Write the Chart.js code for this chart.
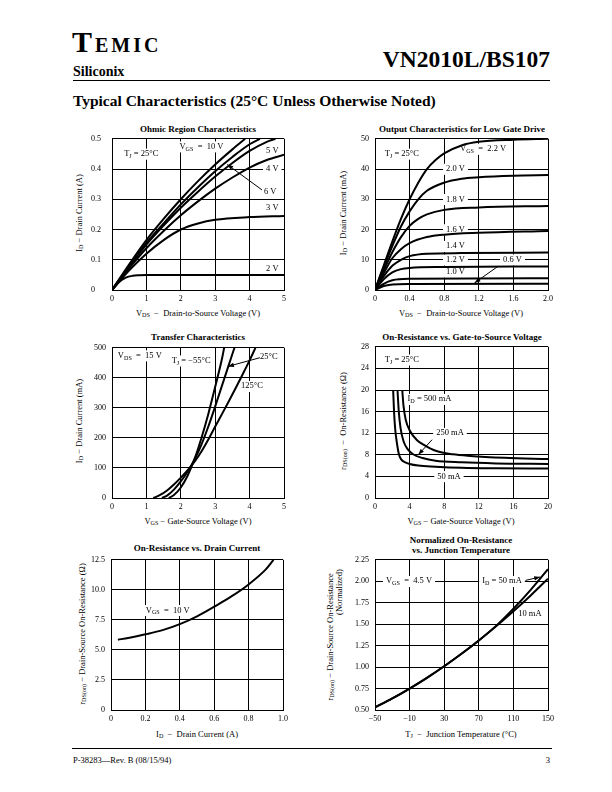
<!DOCTYPE html>
<html>
<head>
<meta charset="utf-8">
<script src="https://cdn.jsdelivr.net/npm/chart.js@4.4.0/dist/chart.umd.min.js"></script>
<style>
  body { margin: 0; width: 612px; height: 792px; background: #fff; position: relative; overflow: hidden;
         font-family: "Liberation Serif", "Times New Roman", serif; color: #000; }
  .t { position: absolute; white-space: nowrap; line-height: 1; }
  .c { transform: translate(-50%, -50%); }
  .r { transform: translate(-50%, -50%) rotate(-90deg); }
  .ttl { font-weight: bold; font-size: 9px; }
  .ax { font-size: 8.5px; }
  sub { font-size: 72%; vertical-align: -0.25em; line-height: 0; }
  .rule { position: absolute; height: 0; border-top: 1px solid #000; }
  canvas { position: absolute; }
</style>
</head>
<body>
<div class="t" style="left:72px; top:27px; font-weight:bold; font-size:30px; letter-spacing:3px;">T<span style="font-size:20px;">EMIC</span></div>
<div class="t" style="left:73px; top:65px; font-weight:bold; font-size:14px;">Siliconix</div>
<div class="t" style="right:62px; top:48px; font-weight:bold; font-size:23.5px;">VN2010L/BS107</div>
<div class="rule" style="left:73px; top:80px; width:477px;"></div>
<div class="t" style="left:73px; top:93px; font-weight:bold; font-size:15.5px;">Typical Characteristics (25°C Unless Otherwise Noted)</div>

<div class="t c ttl" style="left:198px; top:129px;">Ohmic Region Characteristics</div>
<div class="t c ttl" style="left:462px; top:129px;">Output Characteristics for Low Gate Drive</div>
<div class="t c ttl" style="left:198px; top:337px;">Transfer Characteristics</div>
<div class="t c ttl" style="left:462px; top:337px;">On-Resistance vs. Gate-to-Source Voltage</div>
<div class="t c ttl" style="left:197px; top:548px;">On-Resistance vs. Drain Current</div>
<div class="t c ttl" style="left:461px; top:540px;">Normalized On-Resistance</div>
<div class="t c ttl" style="left:461px; top:550px;">vs. Junction Temperature</div>

<div class="t c ax" style="left:198px; top:313px;">V<sub>DS</sub> &nbsp;−&nbsp; Drain-to-Source Voltage (V)</div>
<div class="t c ax" style="left:461px; top:313px;">V<sub>DS</sub> &nbsp;−&nbsp; Drain-to-Source Voltage (V)</div>
<div class="t c ax" style="left:198px; top:521px;">V<sub>GS</sub> − Gate-Source Voltage (V)</div>
<div class="t c ax" style="left:461px; top:521px;">V<sub>GS</sub> − Gate-Source Voltage (V)</div>
<div class="t c ax" style="left:197px; top:734px;">I<sub>D</sub> &nbsp;−&nbsp; Drain Current (A)</div>
<div class="t c ax" style="left:461px; top:734px;">T<sub>J</sub> &nbsp;−&nbsp; Junction Temperature (°C)</div>

<div class="t r ax" style="left:79px; top:213px;">I<sub>D</sub> − Drain Current (A)</div>
<div class="t r ax" style="left:343px; top:213px;">I<sub>D</sub> − Drain Current (mA)</div>
<div class="t r ax" style="left:79px; top:421px;">I<sub>D</sub> − Drain Current (mA)</div>
<div class="t r ax" style="left:343px; top:421px;">r<sub>DS(on)</sub> &nbsp;−&nbsp; On-Resistance (Ω)</div>
<div class="t r ax" style="left:82px; top:634px;">r<sub>DS(on)</sub> − Drain-Source On-Resistance (Ω)</div>
<div class="t r ax" style="left:330px; top:637px;">r<sub>DS(on)</sub> − Drain-Source On-Resistance</div>
<div class="t r ax" style="left:339px; top:592px;">(Normalized)</div>

<div class="rule" style="left:72px; top:748px; width:480px;"></div>
<div class="t" style="left:73px; top:756px; font-size:8.5px;">P-38283—Rev. B (08/15/94)</div>
<div class="t" style="right:62px; top:756px; font-size:8.5px;">3</div>

<script>
// Ohmic region: V_DS (V) vs I_D (A)
const ohmicTicksX = [0, 1, 2, 3, 4, 5];
const ohmicTicksY = [0, 0.1, 0.2, 0.3, 0.4, 0.5];
const ohmic10V = [[0, 0], [0.5, 0.085], [1, 0.165], [1.5, 0.235], [2, 0.3], [2.5, 0.36], [3, 0.415], [3.5, 0.465], [3.87, 0.5]];
const ohmic6V = [[0, 0], [0.5, 0.08], [1, 0.155], [1.5, 0.22], [2, 0.283], [2.5, 0.34], [3, 0.393], [3.5, 0.44], [4, 0.482], [4.3, 0.5]];
const ohmic5V = [[0, 0], [0.5, 0.077], [1, 0.15], [1.5, 0.213], [2, 0.272], [2.5, 0.325], [3, 0.375], [3.5, 0.42], [4, 0.46], [4.5, 0.49], [4.75, 0.5]];
const ohmic4V = [[0, 0], [0.5, 0.072], [1, 0.138], [1.5, 0.195], [2, 0.247], [2.5, 0.293], [3, 0.335], [3.5, 0.372], [4, 0.405], [4.5, 0.43], [5, 0.447]];
const ohmic3V = [[0, 0], [0.5, 0.065], [1, 0.12], [1.5, 0.165], [2, 0.2], [2.5, 0.22], [3, 0.232], [4, 0.241], [5, 0.245]];
const ohmic2V = [[0, 0], [0.2, 0.026], [0.4, 0.041], [0.6, 0.047], [0.8, 0.049], [1, 0.05], [2, 0.05], [5, 0.05]];

// Output characteristics, low gate drive: V_DS (V) vs I_D (mA)
const outTicksX = [0, 0.4, 0.8, 1.2, 1.6, 2.0];
const outTicksY = [0, 10, 20, 30, 40, 50];
const out22V = [[0, 0], [0.1, 8], [0.2, 16], [0.3, 23.5], [0.4, 30], [0.5, 35.5], [0.6, 40], [0.7, 43], [0.8, 45.2], [1.0, 47.8], [1.2, 49], [1.6, 49.7], [2.0, 50]];
const out20V = [[0, 0], [0.1, 7.5], [0.2, 14.5], [0.3, 21], [0.4, 26], [0.5, 30], [0.6, 32.8], [0.8, 35.5], [1.0, 36.8], [1.2, 37.3], [1.6, 37.8], [2.0, 38]];
const out18V = [[0, 0], [0.1, 6.5], [0.2, 12.5], [0.3, 17.5], [0.4, 21.2], [0.5, 23.5], [0.6, 25], [0.8, 26.5], [1.2, 27.3], [2.0, 27.8]];
const out16V = [[0, 0], [0.1, 5.5], [0.2, 10.5], [0.3, 13.5], [0.4, 15.5], [0.6, 17.5], [0.8, 18.3], [1.2, 18.9], [2.0, 19.5]];
const out14V = [[0, 0], [0.1, 4.5], [0.2, 8], [0.3, 10], [0.4, 11.2], [0.6, 12], [1.0, 12.2], [2.0, 12.4]];
const out12V = [[0, 0], [0.1, 3.5], [0.2, 5.8], [0.3, 6.9], [0.4, 7.3], [0.8, 7.6], [2.0, 7.8]];
const out10V = [[0, 0], [0.1, 2], [0.2, 3.2], [0.4, 3.7], [2.0, 3.9]];
const out06V = [[0, 0], [0.1, 1.3], [0.2, 1.8], [0.4, 2.0], [2.0, 2.1]];

// Transfer characteristics: V_GS (V) vs I_D (mA)
const xferTicksX = [0, 1, 2, 3, 4, 5];
const xferTicksY = [0, 100, 200, 300, 400, 500];
const xferMinus55 = [[1.65, 0], [1.8, 10], [2.0, 35], [2.2, 75], [2.4, 130], [2.6, 200], [2.8, 280], [3.0, 370], [3.2, 465], [3.26, 500]];
const xfer25 = [[1.45, 0], [1.6, 8], [1.8, 28], [2.0, 55], [2.2, 88], [2.4, 128], [2.6, 178], [2.8, 238], [3.0, 305], [3.2, 375], [3.4, 445], [3.56, 500]];
const xfer125 = [[1.2, 0], [1.4, 10], [1.6, 25], [1.8, 45], [2.0, 68], [2.2, 93], [2.4, 121], [2.6, 155], [2.8, 195], [3.0, 238], [3.2, 280], [3.4, 323], [3.6, 367], [3.8, 412], [4.0, 458], [4.17, 500]];

// On-resistance vs gate-source voltage: V_GS (V) vs r_DS(on) (ohm)
const rgsTicksX = [0, 4, 8, 12, 16, 20];
const rgsTicksY = [0, 4, 8, 12, 16, 20, 24, 28];
const rgs50mA = [[2.1, 20], [2.2, 16], [2.35, 12.5], [2.55, 10], [2.75, 8.2], [3.0, 7.2], [3.5, 6.6], [4, 6.3], [5, 6.0], [7, 5.8], [10, 5.6], [14, 5.5], [20, 5.45]];
const rgs250mA = [[2.6, 20], [2.75, 16], [2.95, 13], [3.3, 10.5], [3.8, 9], [4.4, 8.1], [5.5, 7.4], [7, 6.9], [10, 6.6], [14, 6.4], [20, 6.3]];
const rgs500mA = [[3.15, 20], [3.3, 17], [3.55, 14.5], [4.05, 12.4], [4.8, 10.8], [5.6, 9.9], [7.1, 8.7], [9, 8.1], [11, 7.8], [15, 7.45], [20, 7.2]];

// On-resistance vs drain current: I_D (A) vs r_DS(on) (ohm)
const ridTicksX = [0, 0.2, 0.4, 0.6, 0.8, 1.0];
const ridTicksY = [0, 2.5, 5, 7.5, 10, 12.5];
const rid10V = [[0.04, 5.85], [0.1, 6.0], [0.2, 6.3], [0.3, 6.65], [0.4, 7.15], [0.5, 7.8], [0.6, 8.6], [0.7, 9.45], [0.8, 10.45], [0.9, 11.7], [0.945, 12.5]];

// Normalized on-resistance vs junction temperature: T_J (C) vs normalized r_DS(on)
const rtjTicksX = [-50, -10, 30, 70, 110, 150];
const rtjTicksY = [0.5, 0.75, 1.0, 1.25, 1.5, 1.75, 2.0, 2.25];
const rtj50mA = [[-50, 0.53], [-30, 0.635], [-10, 0.75], [10, 0.875], [30, 1.01], [50, 1.155], [70, 1.31], [90, 1.48], [110, 1.68], [130, 1.9], [150, 2.14]];
const rtj10mA = [[-50, 0.53], [-30, 0.635], [-10, 0.75], [10, 0.875], [30, 1.01], [50, 1.155], [70, 1.31], [90, 1.475], [110, 1.65], [130, 1.835], [150, 2.03]];

const FONT = '"Liberation Serif", "Times New Roman", serif';
Chart.defaults.font.family = FONT;
Chart.defaults.font.size = 8;
Chart.defaults.color = '#000';

const plain = (v) => String(v);
const oneDec = (v) => (v === 0 ? '0' : v.toFixed(1));
const twoDec = (v) => v.toFixed(2);
const signed = (v) => (v < 0 ? '\u2212' + Math.abs(v) : String(v));

// rich text: "_{...}" marks a subscript
function drawRich(ctx, text, cx, cy, size) {
  const segs = text.split(/(_\{[^}]*\})/).filter(Boolean)
    .map((s) => (s.startsWith('_{') ? { s: s.slice(2, -1), sub: true } : { s, sub: false }));
  const fontOf = (sub) => `${sub ? size * 0.72 : size}px ${FONT}`;
  let w = 0;
  segs.forEach((p) => { ctx.font = fontOf(p.sub); p.w = ctx.measureText(p.s).width; w += p.w; });
  ctx.fillStyle = '#fff';
  ctx.fillRect(cx - w / 2 - 3, cy - size * 0.62, w + 6, size * 1.3);
  ctx.fillStyle = '#000';
  ctx.textAlign = 'left';
  ctx.textBaseline = 'middle';
  let x = cx - w / 2;
  segs.forEach((p) => { ctx.font = fontOf(p.sub); ctx.fillText(p.s, x, cy + (p.sub ? size * 0.3 : 0)); x += p.w; });
}

function drawArrow(ctx, x1, y1, x2, y2) {
  const a = Math.atan2(y2 - y1, x2 - x1), len = 6, hw = 2.2;
  ctx.strokeStyle = '#000';
  ctx.fillStyle = '#000';
  ctx.lineWidth = 1;
  ctx.beginPath(); ctx.moveTo(x1, y1); ctx.lineTo(x2, y2); ctx.stroke();
  ctx.beginPath();
  ctx.moveTo(x2, y2);
  ctx.lineTo(x2 - len * Math.cos(a) + hw * Math.sin(a), y2 - len * Math.sin(a) - hw * Math.cos(a));
  ctx.lineTo(x2 - len * Math.cos(a) - hw * Math.sin(a), y2 - len * Math.sin(a) + hw * Math.cos(a));
  ctx.closePath(); ctx.fill();
}

function notes(labels, arrows) {
  return {
    id: 'notes',
    beforeDatasetsDraw(chart) {
      const { x, y } = chart.scales;
      chart.ctx.save();
      labels.forEach(([vx, vy, text]) => drawRich(chart.ctx, text, x.getPixelForValue(vx), y.getPixelForValue(vy), 8.5));
      chart.ctx.restore();
    },
    afterDatasetsDraw(chart) {
      const { x, y } = chart.scales;
      chart.ctx.save();
      arrows.forEach(([x1, y1, x2, y2]) => drawArrow(chart.ctx, x.getPixelForValue(x1), y.getPixelForValue(y1), x.getPixelForValue(x2), y.getPixelForValue(y2)));
      chart.ctx.restore();
    }
  };
}

function axis(ticks, fmt, fit, extra) {
  return Object.assign({
    type: 'linear',
    min: ticks[0],
    max: ticks[ticks.length - 1],
    grid: { color: '#000', lineWidth: 1, drawTicks: false },
    border: { color: '#000', width: 1 },
    afterBuildTicks: (s) => { s.ticks = ticks.map((value) => ({ value })); },
    afterFit: fit,
    ticks: { callback: fmt, autoSkip: false, maxRotation: 0, padding: 4 }
  }, extra || {});
}

// box = [left, top, right, bottom] of the plot area on the page
function panel(box, xTicks, yTicks, xFmt, yFmt, curves, labels, arrows, leftAlignY) {
  const [L, T, R, B] = box;
  const cv = document.createElement('canvas');
  const w = R - L + 50, h = B - T + 28;
  cv.width = w; cv.height = h;
  cv.style.left = (L - 40) + 'px';
  cv.style.top = (T - 8) + 'px';
  document.body.appendChild(cv);
  const yAxis = axis(yTicks, yFmt, (s) => { s.width = leftAlignY ? 21 : 40; });
  yAxis.ticks.padding = 6;
  if (leftAlignY) yAxis.ticks.crossAlign = 'far';
  return new Chart(cv, {
    type: 'line',
    data: {
      datasets: curves.map((c) => ({
        data: c.map(([x, y]) => ({ x, y })),
        borderColor: '#000', borderWidth: 2, pointRadius: 0,
        cubicInterpolationMode: 'monotone', fill: false
      }))
    },
    options: {
      responsive: false, animation: false, devicePixelRatio: 1,
      layout: { padding: { top: 8, right: 10, bottom: 0, left: leftAlignY ? 19 : 0 } },
      plugins: { legend: { display: false }, tooltip: { enabled: false } },
      scales: {
        x: axis(xTicks, xFmt, (s) => { s.height = 20; }),
        y: yAxis
      }
    },
    plugins: [notes(labels, arrows)]
  });
}

panel([112, 136, 284, 290], ohmicTicksX, ohmicTicksY, plain, plain,
  [ohmic10V, ohmic6V, ohmic5V, ohmic4V, ohmic3V, ohmic2V],
  [[0.85, 0.45, 'T_{J} = 25°C'], [2.6, 0.474, 'V_{GS}  =  10 V'], [4.66, 0.46, '5 V'], [4.66, 0.40, '4 V'],
   [4.6, 0.325, '6 V'], [4.66, 0.273, '3 V'], [4.66, 0.071, '2 V']],
  [[4.36, 0.331, 3.35, 0.415]], true);

panel([375, 136, 548, 290], outTicksX, outTicksY, oneDec, plain,
  [out22V, out20V, out18V, out16V, out14V, out12V, out10V, out06V],
  [[0.31, 45, 'T_{J} = 25°C'], [1.25, 46.6, 'V_{GS}  =  2.2 V'], [0.93, 40, '2.0 V'], [0.93, 30, '1.8 V'],
   [0.93, 20, '1.6 V'], [0.93, 14.5, '1.4 V'], [0.93, 10, '1.2 V'], [0.93, 6, '1.0 V'], [1.59, 10, '0.6 V']],
  [[1.42, 7.8, 1.15, 2.3]], false);

panel([112, 345, 284, 498], xferTicksX, xferTicksY, plain, plain,
  [xferMinus55, xfer25, xfer125],
  [[0.81, 474, 'V_{DS}  =  15 V'], [2.3, 457, 'T_{J} = \u221255°C'], [4.56, 470, '25°C'], [4.07, 372, '125°C']],
  [[4.3, 467, 3.37, 438]], false);

panel([375, 344, 548, 498], rgsTicksX, rgsTicksY, plain, plain,
  [rgs50mA, rgs250mA, rgs500mA],
  [[3.1, 25.6, 'T_{J} = 25°C'], [6.3, 18.3, 'I_{D} = 500 mA'], [8.67, 12, '250 mA'], [8.55, 4, '50 mA']],
  [[6.6, 10.8, 5.0, 8.0]], false);

panel([111, 557, 283, 710], ridTicksX, ridTicksY, oneDec, oneDec,
  [rid10V],
  [[0.33, 8.3, 'V_{GS}  =  10 V']],
  [], false);

panel([375, 557, 548, 710], rtjTicksX, rtjTicksY, signed, twoDec,
  [rtj50mA, rtj10mA],
  [[-10.7, 2.0, 'V_{GS}  =  4.5 V'], [96.8, 2.0, 'I_{D} = 50 mA'], [129, 1.62, '10 mA']],
  [[124, 2.01, 141, 2.05]], false);
</script>
</body>
</html>
